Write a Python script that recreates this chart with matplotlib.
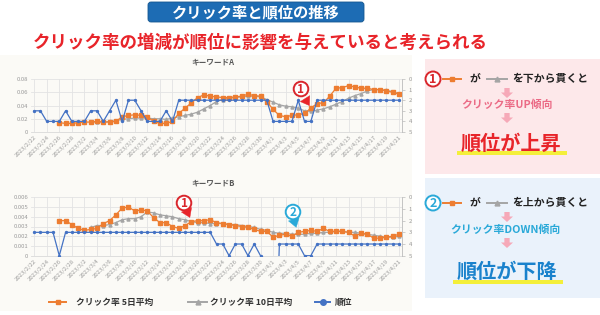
import matplotlib
matplotlib.use("Agg")
import matplotlib.pyplot as plt
import numpy as np
import pandas as pd
from matplotlib.patches import FancyBboxPatch, Rectangle, Circle, Polygon
from matplotlib.lines import Line2D

plt.rcParams['font.family'] = ['Noto Sans CJK JP', 'DejaVu Sans']

# ---------------- data ----------------
dates = [f"2023/{d.month}/{d.day}" for d in pd.date_range("2023-02-22", "2023-04-21")]
tick_labels = dates[::2]

# Keyword A
a_ctr5 = [0.014, 0.013, 0.013, 0.014, 0.015, 0.015, 0.016, 0.015, 0.015, 0.016,
          0.023, 0.025, 0.026, 0.025, 0.023, 0.016, 0.013, 0.013, 0.016, 0.028,
          0.036, 0.044, 0.052, 0.056, 0.054, 0.053, 0.052, 0.052, 0.053, 0.054,
          0.057, 0.055, 0.054, 0.046, 0.034, 0.025, 0.023, 0.025, 0.026, 0.028,
          0.036, 0.043, 0.044, 0.054, 0.066, 0.067, 0.070, 0.068, 0.066, 0.066,
          0.064, 0.064, 0.062, 0.060, 0.057]           # from 2/26
a_ctr10 = [0.015, 0.015, 0.015, 0.016, 0.017, 0.019, 0.020, 0.021, 0.021, 0.021,
           0.020, 0.020, 0.019, 0.021, 0.023, 0.025, 0.027, 0.030, 0.035, 0.040,
           0.046, 0.049, 0.051, 0.052, 0.053, 0.054, 0.054, 0.053, 0.049, 0.045,
           0.041, 0.039, 0.038, 0.036, 0.032, 0.031, 0.033, 0.035, 0.038, 0.042,
           0.046, 0.051, 0.055, 0.058, 0.062, 0.064, 0.064, 0.063, 0.061, 0.058]  # from 3/3
a_rank = [3, 3, 4, 4, 4, 3, 4, 4, 4, 3, 3, 4, 3, 2, 4, 2, 2, 3, 4, 4,
          4, 3, 4, 2, 2, 2, 2, 2, 2, 2, 2, 2, 2, 2, 2, 2, 2, 2, 4, 4,
          4, 4, 2, 4, 4, 2, 2, 2, 2, 2, 2, 2, 2, 2, 2, 2, 2, 2, 2]

# Keyword B
b_ctr5 = [0.0036, 0.0036, 0.0032, 0.0028, 0.0026, 0.0027, 0.0028, 0.0033, 0.0036, 0.0042,
          0.0049, 0.0050, 0.0046, 0.0047, 0.0046, 0.0039, 0.0034, 0.0034, 0.0030, 0.0028,
          0.0031, 0.0035, 0.0036, 0.0036, 0.0037, 0.0034, 0.0033, 0.0032, 0.0031, 0.0030,
          0.0029, 0.0027, 0.0025, 0.0025, 0.0019, 0.0021, 0.0022, 0.0020, 0.0024, 0.0025,
          0.0026, 0.0025, 0.0028, 0.0025, 0.0025, 0.0025, 0.0024, 0.0020, 0.0023, 0.0022,
          0.0018, 0.0018, 0.0019, 0.0020, 0.0022]      # from 2/26
b_ctr10 = [0.0029, 0.0031, 0.0031, 0.0032, 0.0034, 0.0037, 0.0038, 0.0038, 0.0040, 0.0045,
           0.0044, 0.0042, 0.0041, 0.0040, 0.0038, 0.0037, 0.0035, 0.0034, 0.0034, 0.0033,
           0.0033, 0.0033, 0.0032, 0.0032, 0.0031, 0.0030, 0.0029, 0.0027, 0.0026, 0.0024,
           0.0023, 0.0023, 0.0022, 0.0022, 0.0022, 0.0023, 0.0023, 0.0024, 0.0024, 0.0025,
           0.0025, 0.0024, 0.0024, 0.0023, 0.0022, 0.0021, 0.0020, 0.0019, 0.0019, 0.0020]  # from 3/3
b_rank = [3, 3, 3, 3, 5, 3, 3, 3, 3, 3, 3, 3, 3, 3, 3, 3, 3, 3, 3, 3,
          3, 3, 3, 3, 3, 3, 3, 3, 3, 4, 4, 5, 4, 4, 5, 4, 5, 20, 20, 4,
          4, 4, 4, 5, 5, 4, 4, 4, 4, 4, 4, 4, 4, 4, 4, 4, 4, 4, 4]

C_OR = '#ed7d31'
C_GR = '#a5a5a5'
C_BL = '#4472c4'
W, H = 600, 315

fig = plt.figure(figsize=(6, 3.15), dpi=100)
fig.patch.set_facecolor('white')

def px(x0, y0, x1, y1):
    return [x0 / W, 1 - y1 / H, (x1 - x0) / W, (y1 - y0) / H]

# background layer
bg = fig.add_axes([0, 0, 1, 1], zorder=0)
bg.set_xlim(0, W); bg.set_ylim(H, 0); bg.axis('off')
bg.add_patch(Rectangle((0, 55), 412, 256, color='#fbfaf6', lw=0))
bg.add_patch(Rectangle((425, 59), 175, 115, color='#fde8ea', lw=0))
bg.add_patch(Rectangle((425, 178), 175, 120, color='#eaf2fb', lw=0))


def draw_chart(box, ymax, ystep, ctr5, ctr10, rank, tfmt):
    ax = fig.add_axes(px(*box), zorder=2)
    ax.set_facecolor('none')
    n = len(dates)
    x = np.arange(n)
    ax.set_xlim(-0.5, n - 0.5)
    ax.set_ylim(0, ymax)
    ax.set_xticks(x[::2])
    ax.set_xticklabels(tick_labels, rotation=45, ha='right', rotation_mode='anchor',
                       fontsize=4.3, color='#9a9a9a')
    yt = np.arange(0, ymax + ystep / 2, ystep)
    ax.set_yticks(yt)
    ax.set_yticklabels([tfmt(v) for v in yt], fontsize=4.3, color='#9a9a9a')
    ax.tick_params(length=0, pad=2)
    ax.grid(True, color='#e3e3e3', lw=0.6)
    ax.set_axisbelow(True)
    for s in ['left', 'right', 'top']:
        ax.spines[s].set_visible(False)
    ax.spines['bottom'].set_color('#d9d9d9')
    ax.spines['bottom'].set_linewidth(0.6)
    x5 = x[n - len(ctr5):]
    x10 = x[n - len(ctr10):]
    ax.plot(x10, ctr10, color=C_GR, lw=0.9, marker='^', ms=2.2, zorder=3)
    ax.plot(x5, ctr5, color=C_OR, lw=0.9, marker='s', ms=2.2, zorder=4)
    ax2 = ax.twinx()
    ax2.set_zorder(3)
    ax2.set_facecolor('none')
    ax2.set_ylim(5, 0)
    ax2.set_yticks(range(6))
    ax2.set_yticklabels([str(i) for i in range(6)], fontsize=4.3, color='#9a9a9a')
    ax2.tick_params(length=2, width=0.5, color='#bbbbbb', pad=3)
    for s in ['left', 'top', 'bottom']:
        ax2.spines[s].set_visible(False)
    ax2.spines['right'].set_color('#bbbbbb')
    ax2.spines['right'].set_linewidth(0.6)
    ax2.plot(x, rank, color=C_BL, lw=0.9, marker='o', ms=1.4, zorder=5)
    return ax

draw_chart((31, 79, 402, 132), 0.08, 0.02, a_ctr5, a_ctr10, a_rank,
           lambda v: '0' if v == 0 else f"{v:.2f}")
draw_chart((31, 197.3, 402, 255.7), 0.006, 0.001, b_ctr5, b_ctr10, b_rank,
           lambda v: '0' if v == 0 else f"{v:.3f}")

# overlay layer
ov = fig.add_axes([0, 0, 1, 1], zorder=10)
ov.set_facecolor('none')
ov.set_xlim(0, W); ov.set_ylim(H, 0); ov.axis('off')

# title box
ov.add_patch(FancyBboxPatch((148, 2), 216, 20, boxstyle='round,pad=0,rounding_size=3',
                            fc='#1d6cb4', ec='#15568f', lw=0.6))
ov.text(256, 12.5, 'クリック率と順位の推移', color='white', fontsize=11, fontweight='bold',
        ha='center', va='center')
ov.text(260, 43, 'クリック率の増減が順位に影響を与えていると考えられる', color='#e8242a',
        fontsize=12.6, fontweight='bold', ha='center', va='center')

ov.text(213, 62, 'キーワードA', fontsize=5.5, fontweight='bold', color='#595959',
        ha='center', va='center')
ov.text(213, 183, 'キーワードB', fontsize=5.5, fontweight='bold', color='#595959',
        ha='center', va='center')

# legend
def leg_icon(x0, x1, y, color, marker, ms=3.5):
    ov.add_line(Line2D([x0, x1], [y, y], color=color, lw=1.4))
    ov.add_line(Line2D([(x0 + x1) / 2], [y], color=color, marker=marker, ms=ms, lw=0))

leg_icon(49, 66, 302, C_OR, 's')
ov.text(76, 302, 'クリック率 5日平均', fontsize=6.3, fontweight='bold', color='#333333', va='center')
leg_icon(188, 207, 302, C_GR, '^')
ov.text(210, 302, 'クリック率 10日平均', fontsize=6.3, fontweight='bold', color='#333333', va='center')
leg_icon(315, 330, 302, C_BL, 'o', 4)
ov.text(335, 302, '順位', fontsize=6.3, fontweight='bold', color='#333333', va='center')

# number circles with arrows on charts
def num_circle(x, y, s, color, r=7.3, fs=8.5):
    ov.add_patch(Circle((x, y), r, fc='white', ec=color, lw=1.4))
    ov.text(x, y + 0.3, s, color=color, fontsize=fs, fontweight='bold', ha='center', va='center')

def small_arrow(x0, y0, x1, y1, color):
    ov.annotate('', xy=(x1, y1), xytext=(x0, y0),
                arrowprops=dict(arrowstyle='simple,head_width=0.8,head_length=0.6,tail_width=0.35',
                                fc=color, ec=color, lw=0.3))

num_circle(301, 89, '1', '#d9262c')
small_arrow(304, 97, 311, 108, '#e8242a')
num_circle(184, 203, '1', '#d9262c')
small_arrow(187, 211, 191, 220, '#e8242a')
num_circle(293, 212, '2', '#2aa9d8')
small_arrow(294, 220, 297, 230, '#2aa9d8')

# side panels
def down_arrow(x, y0, y1, w=12, color='#f6a9b8'):
    h = y1 - y0
    pts = [(x - w * 0.22, y0), (x + w * 0.22, y0), (x + w * 0.22, y0 + h * 0.45),
           (x + w / 2, y0 + h * 0.45), (x, y1), (x - w / 2, y0 + h * 0.45),
           (x - w * 0.22, y0 + h * 0.45)]
    ov.add_patch(Polygon(pts, closed=True, fc=color, ec='none'))

def panel_row(y, num, color, text):
    num_circle(433, y, num, color, r=7.5, fs=9)
    ov.add_line(Line2D([443, 461], [y, y], color=C_OR, lw=1.4))
    ov.add_line(Line2D([452], [y], color=C_OR, marker='s', ms=3.5, lw=0))
    ov.text(469, y, 'が', fontsize=7.8, fontweight='bold', color='#222222', va='center')
    ov.add_line(Line2D([487, 507], [y, y], color=C_GR, lw=1.4))
    ov.add_line(Line2D([497], [y], color=C_GR, marker='^', ms=3.5, lw=0))
    ov.text(512, y, text, fontsize=7.8, fontweight='bold', color='#222222', va='center')

panel_row(79, '1', '#d9262c', 'を下から貫くと')
down_arrow(507, 88, 98)
ov.text(507, 105, 'クリック率UP傾向', fontsize=7.8, fontweight='bold', color='#eb6b86',
        ha='center', va='center')
down_arrow(507, 113, 123)
ov.add_patch(Rectangle((457, 151), 110, 4, fc='#f4ef3a', ec='none'))
ov.text(511, 143, '順位が上昇', fontsize=14.5, fontweight='bold', color='#e8242a',
        ha='center', va='center')

panel_row(203, '2', '#2aa9d8', 'を上から貫くと')
down_arrow(507, 212, 222)
ov.text(505, 230, 'クリック率DOWN傾向', fontsize=7.8, fontweight='bold', color='#2aa9d8',
        ha='center', va='center')
down_arrow(507, 238, 248)
ov.add_patch(Rectangle((453, 280), 110, 4, fc='#f4ef3a', ec='none'))
ov.text(507, 271, '順位が下降', fontsize=14.5, fontweight='bold', color='#1a82cc',
        ha='center', va='center')

fig.savefig('out.png', dpi=100, facecolor='white')
